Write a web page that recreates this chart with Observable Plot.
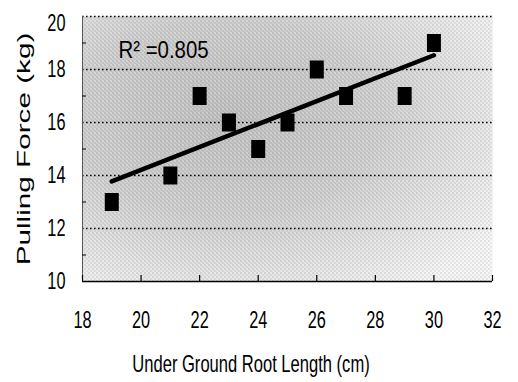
<!DOCTYPE html>
<html><head><meta charset="utf-8">
<script src="https://cdn.jsdelivr.net/npm/d3@7"></script>
<script src="https://cdn.jsdelivr.net/npm/@observablehq/plot@0.6"></script>
<style>body{margin:0;background:#fff;} svg{font-family:"Liberation Sans",Arial,sans-serif;}</style>
</head><body><div id="chart"></div>
<script>
const rootLength = [19, 21, 22, 23, 24, 25, 26, 27, 29, 30];
const pullingForce = [13, 14, 17, 16, 15, 16, 18, 17, 17, 19];
const xTicks = [18, 20, 22, 24, 26, 28, 30, 32];
const yTicks = [10, 12, 14, 16, 18, 20];
const yMinorTicks = [11, 13, 15, 17, 19];
const gridValues = [12, 14, 16, 18, 20];
const rSquaredLabel = "R² =0.805";
const xTitle = "Under Ground Root Length (cm)";
const yTitle = "Pulling Force (kg)";

const data = rootLength.map((x, i) => ({x, y: pullingForce[i]}));
const rectSymbol = {draw(ctx, size) { const w = 14, h = 18; ctx.rect(-w / 2, -h / 2, w, h); ctx.closePath(); }};

const plot = Plot.plot({
  width: 518, height: 382,
  marginLeft: 82, marginRight: 26, marginTop: 16, marginBottom: 101,
  x: {domain: [18, 32]},
  y: {domain: [10, 20]},
  style: {background: "white", color: "black", fontFamily: '"Liberation Sans", Arial, sans-serif'},
  marks: [
    Plot.frame({fill: "url(#bgGrad)", stroke: null}),
    Plot.frame({fill: "url(#bgDots)", stroke: null}),
    Plot.gridY(gridValues, {stroke: "black", strokeOpacity: 1, strokeWidth: 1.7, strokeDasharray: "1.6,2.4"}),
    Plot.ruleX([18], {stroke: "#555", strokeWidth: 1}),
    Plot.ruleY([10], {stroke: "black", strokeWidth: 1.5}),
    Plot.axisX(xTicks, {tickSize: 6, dy: -6, tickFormat: () => "", label: null, strokeWidth: 1.2}),
    Plot.axisX(xTicks, {tickSize: 0, tickPadding: 29, label: null}),
    Plot.axisY(yMinorTicks, {tickSize: 4, dx: 4, tickFormat: () => "", label: null}),
    Plot.axisY(yTicks, {tickSize: 0, tickPadding: 17, label: null}),
    Plot.linearRegressionY(data, {x: "x", y: "y", stroke: "black", strokeWidth: 4.5, ci: 0}),
    Plot.dot(data, {x: "x", y: "y", symbol: rectSymbol, r: 9, fill: "black", stroke: null}),
    Plot.text([rSquaredLabel], {frameAnchor: "top-left", dx: 36, dy: 24, lineAnchor: "top", textAnchor: "start", fill: "black"})
  ]
});

const svg = d3.select(plot);
const defs = svg.insert("defs", ":first-child");
const grad = defs.append("radialGradient").attr("id", "bgGrad").attr("cx", 0.35).attr("cy", 0.38).attr("r", 0.8);
grad.append("stop").attr("offset", "0%").attr("stop-color", "#bcbcbc");
grad.append("stop").attr("offset", "45%").attr("stop-color", "#cbcbcb");
grad.append("stop").attr("offset", "100%").attr("stop-color", "#f6f6f6");
const pat = defs.append("pattern").attr("id", "bgDots").attr("width", 4).attr("height", 4).attr("patternUnits", "userSpaceOnUse");
[[0,0,"#555"],[2,2,"#777"],[1,3,"#fff"],[3,1,"#fff"],[2,0,"#fff"]].forEach(([px,py,c]) =>
  pat.append("rect").attr("x", px).attr("y", py).attr("width", 1).attr("height", 1).attr("fill", c).attr("fill-opacity", 0.5));

function squeeze(sel, s, fs) {
  sel.each(function() {
    const el = d3.select(this);
    const t = el.attr("transform") || "";
    el.attr("transform", `${t} scale(${s},1)`).style("font-size", fs + "px");
  });
}
squeeze(svg.selectAll('g[aria-label="x-axis tick label"] text'), 0.68, 24);
squeeze(svg.selectAll('g[aria-label="y-axis tick label"] text'), 0.68, 24);
squeeze(svg.selectAll('g[aria-label="text"] text'), 0.85, 24);
svg.selectAll('g[aria-label="y-axis tick label"] text').filter(function() { return this.textContent === "20"; }).attr("dy", "0.3em");

svg.append("text").attr("transform", "translate(251,372) scale(0.72,1)").attr("text-anchor", "middle")
  .style("font-size", "23px").attr("fill", "black").text(xTitle);
svg.append("text").attr("transform", "translate(30,149) rotate(-90) scale(1.65,1)").attr("text-anchor", "middle")
  .style("font-size", "18px").attr("fill", "black").text(yTitle);

document.getElementById("chart").appendChild(plot);
</script>
</body></html>
